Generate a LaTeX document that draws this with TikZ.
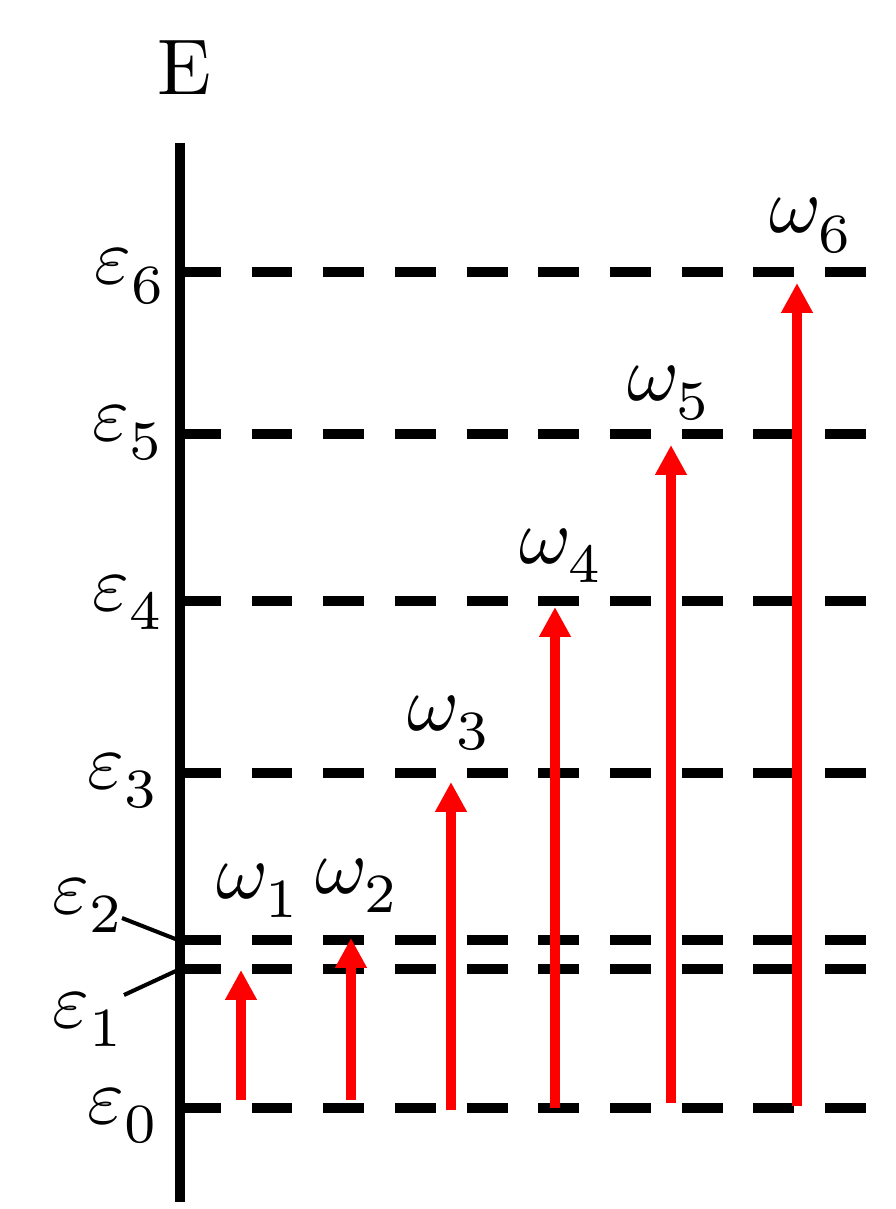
\documentclass[tikz,border=0pt]{standalone}
\usetikzlibrary{arrows.meta}
\newcommand\lsub[2]{#1_{\lower1pt\hbox{$\scriptstyle#2$}}}
\begin{document}
\begin{tikzpicture}[x=0.02cm,y=-0.02cm,
  lab/.style={anchor=base west,inner sep=0pt,scale=4.5,transform shape,font=\fontsize{10}{12}\selectfont},
  axis/.style={line width=5.67pt,black},
  level/.style={line width=5.67pt,black,dash pattern=on 23.2pt off 17.6pt},
  lead/.style={line width=2.3pt,black},
  excite/.style={line width=5.67pt,red,-{Triangle[width=17pt,length=17pt]}}]
\useasboundingbox (0,0) rectangle (895,1209);
% axis
\coordinate (atop) at (180,143);
\coordinate (abot) at (180,1202);
\draw[axis] (atop) -- (abot);
\node[lab] (E) at (156,95) {E};
% levels
\foreach \n/\y in {6/272,5/434,4/601,3/773,2/940,1/969,0/1108}{
  \coordinate (l\n) at (180,\y);
  \coordinate (r\n) at (895,\y);
  \draw[level] (l\n) -- (r\n);
}
% level labels
\node[lab] (e6) at (93,284) {$\lsub{\varepsilon}{6}$};
\node[lab] (e5) at (91,440) {$\lsub{\varepsilon}{5}$};
\node[lab] (e4) at (91,610) {$\lsub{\varepsilon}{4}$};
\node[lab] (e3) at (86,788) {$\lsub{\varepsilon}{3}$};
\node[lab] (e0) at (86,1123) {$\lsub{\varepsilon}{0}$};
\node[lab] (e2) at (51,913) {$\lsub{\varepsilon}{2}$};
\node[lab] (e1) at (51,1027) {$\lsub{\varepsilon}{1}$};
\coordinate (s2) at (122,918);
\coordinate (s1) at (124,995);
\coordinate (k2) at (178,940);
\coordinate (k1) at (178,970);
\draw[lead] (s2) -- (k2);
\draw[lead] (s1) -- (k1);
% transitions
\foreach \i/\x/\ya/\yb in {1/241/1100/970,2/351/1100/938,3/451/1110/782,4/555/1108/607,5/671/1103/445,6/797/1106/283}{
  \coordinate (b\i) at (\x,\ya);
  \coordinate (t\i) at (\x,\yb);
  \draw[excite] (b\i) -- (t\i);
}
\node[lab] (w1) at (215,898) {$\lsub{\omega}{1}$};
\node[lab] (w2) at (314,893) {$\lsub{\omega}{2}$};
\node[lab] (w3) at (406,730) {$\lsub{\omega}{3}$};
\node[lab] (w4) at (518,563) {$\lsub{\omega}{4}$};
\node[lab] (w5) at (626,400) {$\lsub{\omega}{5}$};
\node[lab] (w6) at (768,233) {$\lsub{\omega}{6}$};
\end{tikzpicture}
\end{document}
